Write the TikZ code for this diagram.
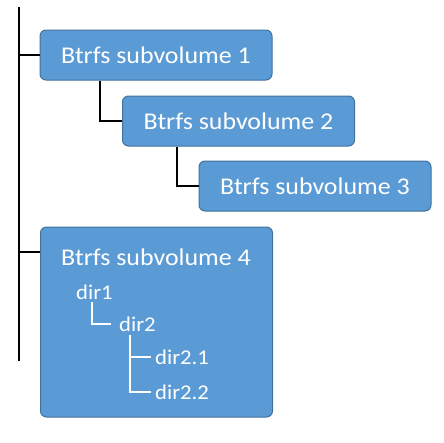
\documentclass[tikz,border=0pt]{standalone}
\usepackage{fontspec}
\setmainfont[FakeStretch=1.08]{Carlito}
\usepackage{tikz}
\usetikzlibrary{positioning}

\definecolor{subfill}{HTML}{5B9BD5}
\definecolor{subline}{HTML}{41719C}

\tikzset{
  subvol/.style={draw=subline,fill=subfill,rounded corners=6pt,line width=1pt,
    minimum width=232pt,minimum height=50pt,text=white,font=\fontsize{24}{28}\selectfont},
  dirtext/.style={anchor=west,inner sep=0pt,text=white,font=\fontsize{21}{24}\selectfont},
  tree/.style={line width=2pt},
  dirtree/.style={line width=1.6pt,white}
}

\begin{document}
\begin{tikzpicture}[x=1pt,y=-1pt]
  \useasboundingbox (0,0) rectangle (444,442);

  % main line
  \coordinate (top) at (19,7);
  \coordinate (bot) at (19,361);
  \draw[tree] (top) -- (bot);

  % subvolumes
  \node[subvol] (sv1) at (156,55) {Btrfs subvolume 1};
  \node[subvol] (sv2) at (238.5,121) {Btrfs subvolume 2};
  \node[subvol] (sv3) at (315,186) {Btrfs subvolume 3};
  \node[subvol,minimum height=190pt] (sv4) at (156.5,322) {};

  \draw[tree] (sv1.west) -- (sv1.west -| top);
  \draw[tree] ([yshift=70pt]sv4.west) -- ([yshift=70pt]sv4.west -| top);
  \draw[tree] ([xshift=60pt]sv1.south west) |- (sv2.west);
  \draw[tree] ([xshift=55pt]sv2.south west) |- (sv3.west);

  % subvolume 4 contents
  \node[anchor=west,inner sep=0pt,text=white,font=\fontsize{24}{28}\selectfont]
    (sv4title) at (61,257) {Btrfs subvolume 4};
  \node[dirtext] (dir1) at (76,292) {dir1};
  \node[dirtext] (dir2) at (119,324) {dir2};
  \node[dirtext] (dir21) at (155,357) {dir2.1};
  \node[dirtext] (dir22) at (155,392) {dir2.2};

  \draw[dirtree] ([xshift=16pt,yshift=-2pt]dir1.south west) |- ([xshift=-8pt]dir2.west);
  \draw[dirtree] ([xshift=11pt,yshift=-3pt]dir2.south west) |- ([xshift=-4pt]dir22.west);
  \draw[dirtree] ([xshift=11pt]dir21.west -| dir2.south west) -- ([xshift=-4pt]dir21.west);
\end{tikzpicture}
\end{document}
